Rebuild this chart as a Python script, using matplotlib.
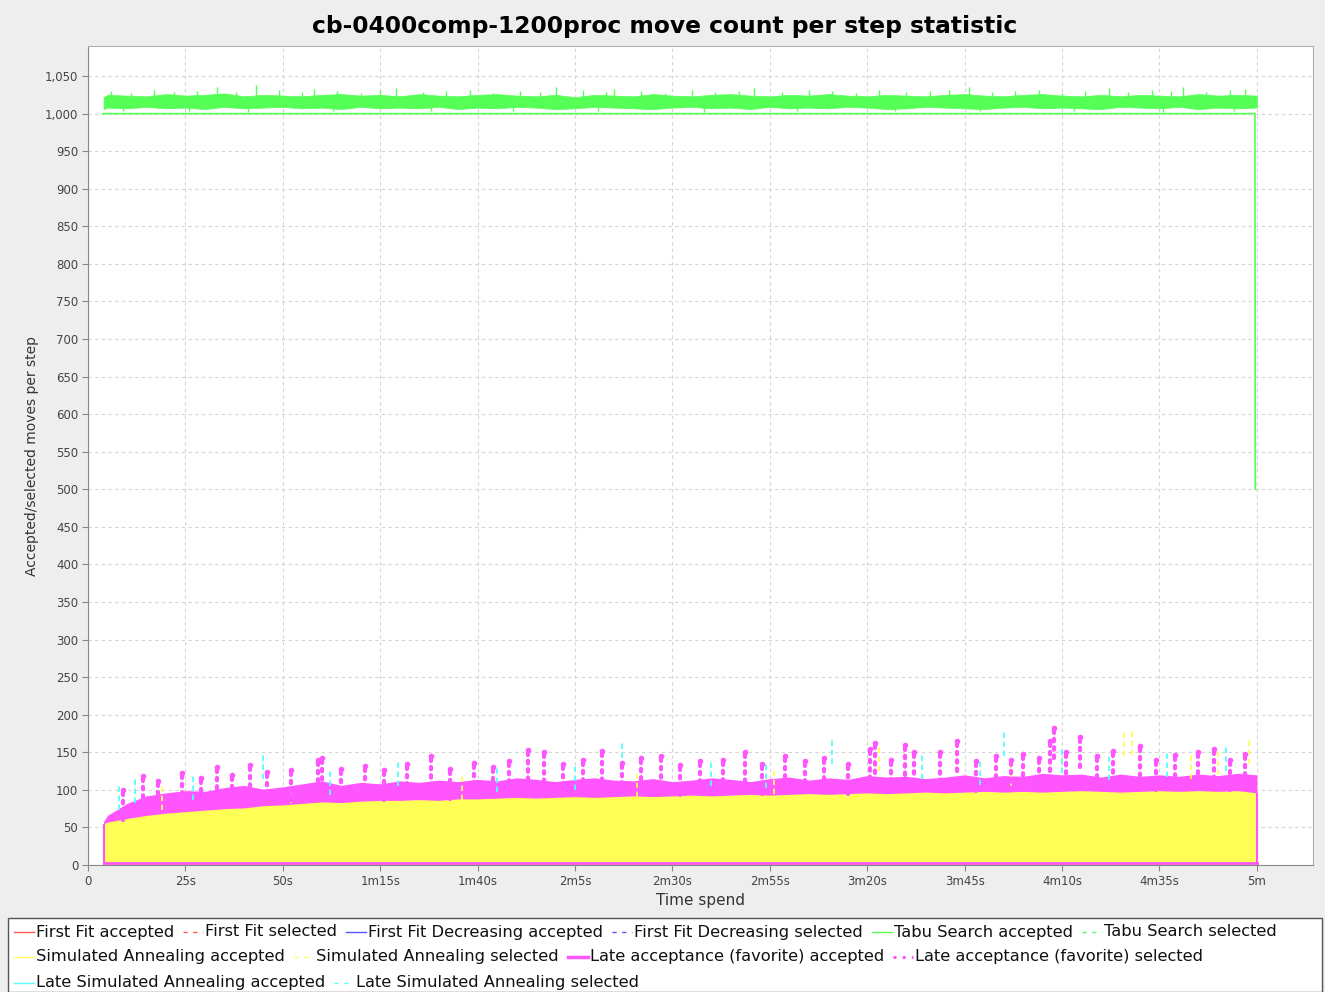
import matplotlib
matplotlib.use("Agg")
import matplotlib.pyplot as plt
from matplotlib.lines import Line2D
from matplotlib.patches import Rectangle
from matplotlib.ticker import FuncFormatter

# sample times (seconds) of the move count series
t_sec = [4] + list(range(5, 301, 5))

# Tabu Search: noisy band of selected moves and flat accepted line
ts_hi = [1022, 1025, 1024, 1023, 1026, 1024, 1025, 1027, 1023, 1025, 1024,
         1023, 1025, 1026, 1024, 1025, 1023, 1026, 1024, 1023, 1025, 1026,
         1024, 1023, 1025, 1022, 1025, 1024, 1023, 1026, 1024, 1023, 1025,
         1026, 1024, 1023, 1025, 1024, 1026, 1024, 1023, 1025, 1024, 1023,
         1025, 1026, 1024, 1023, 1025, 1026, 1024, 1023, 1025, 1023, 1025,
         1024, 1023, 1026, 1024, 1025, 1024]
ts_lo = [1006, 1008, 1007, 1009, 1007, 1008, 1006, 1009, 1007, 1008, 1009,
         1007, 1008, 1006, 1009, 1007, 1008, 1007, 1009, 1006, 1008, 1007,
         1009, 1008, 1006, 1007, 1009, 1008, 1007, 1006, 1008, 1009, 1007,
         1008, 1006, 1009, 1007, 1008, 1007, 1009, 1008, 1006, 1007, 1009,
         1008, 1007, 1006, 1008, 1009, 1007, 1008, 1007, 1006, 1009, 1008,
         1007, 1009, 1006, 1008, 1007, 1008]
ts_spike_t = [6, 11, 17, 22, 28, 33, 38, 43, 49, 55, 58, 64, 70, 75, 79, 86,
              92, 98, 104, 111, 116, 120, 127, 133, 135, 142, 148, 155, 161,
              167, 171, 178, 185, 191, 197, 203, 210, 216, 221, 226, 232,
              238, 244, 250, 256, 262, 267, 273, 278, 281, 287, 293, 297]
ts_spike_v = [1030, 1028, 1031, 1029, 1030, 1036, 1029, 1038, 1031, 1029,
              1033, 1030, 1028, 1031, 1034, 1029, 1030, 1031, 1028, 1030,
              1029, 1035, 1031, 1029, 1033, 1030, 1028, 1031, 1029, 1030,
              1034, 1029, 1031, 1030, 1028, 1031, 1029, 1030, 1031, 1035,
              1029, 1030, 1031, 1028, 1030, 1034, 1029, 1031, 1030, 1036,
              1029, 1031, 1033]
ts_dip_t = [9, 26, 41, 63, 88, 109, 131, 158, 182, 207, 229, 253, 276, 294]
ts_dip_v = [1003, 1004, 1002, 1004, 1003, 1004, 1003, 1002, 1004, 1003,
            1004, 1003, 1002, 1004]
tabu_acc_t = [3.85, 299.5, 299.6]
tabu_acc = [1000, 1000, 500]

# Simulated Annealing: top of the dense yellow band
sa_top = [55, 57, 62, 66, 69, 71, 73, 75, 76, 79, 80, 82, 84, 83, 85, 86,
          86, 87, 86, 88, 88, 89, 90, 89, 90, 91, 90, 91, 92, 91, 92, 93,
          92, 93, 94, 93, 94, 95, 94, 95, 96, 95, 96, 97, 96, 97, 98, 97,
          98, 97, 98, 99, 98, 97, 98, 99, 98, 99, 98, 99, 96]
sa_spike_t = [19, 52, 96, 141, 176, 203, 237, 266, 268, 283, 290, 298]
sa_spike_v = [108, 118, 122, 125, 130, 160, 140, 180, 182, 150, 155, 170]

# Late acceptance: selected band top, accepted near zero, high outliers
la_hi = [58, 66, 82, 92, 96, 99, 98, 103, 106, 101, 104, 108, 112, 106,
         110, 108, 112, 110, 113, 111, 114, 112, 116, 114, 111, 114, 116,
         113, 112, 115, 111, 113, 116, 114, 111, 115, 117, 113, 116, 114,
         119, 117, 118, 115, 117, 120, 116, 119, 118, 122, 120, 121, 117,
         121, 118, 120, 118, 121, 119, 122, 120]
la_accepted = [2] * len(t_sec)
la_peak_t = [9, 14, 18, 24, 29, 33, 37, 41.6, 46, 52, 59, 60, 65, 71, 76,
             82, 88, 93, 99, 104, 108, 113, 117, 122, 127, 132, 137, 142,
             147, 152, 157, 163, 168.6, 173, 179, 184, 189, 195, 200.7, 202,
             206, 209.6, 212, 218.6, 223, 228, 233, 237, 240, 244, 247, 248,
             251, 254.6, 259, 263, 270, 274, 279, 285, 289, 293, 297]
la_peak_v = [100, 118, 112, 122, 116, 130, 120, 133, 124, 126, 140, 143,
             128, 132, 126, 135, 145, 128, 136, 130, 138, 153, 150, 134, 140,
             152, 136, 142, 145, 133, 138, 140, 150, 135, 145, 138, 142, 134,
             155, 162, 140, 160, 150, 150, 165, 138, 145, 140, 148, 142, 165,
             182, 150, 170, 145, 152, 158, 140, 146, 150, 155, 140, 148]

# Late Simulated Annealing: outliers poking above the other bands
lsa_spike_t = [8, 12, 27, 45, 62, 79.5, 105, 125, 137, 160, 174, 191, 214,
               229, 235, 250, 262, 277, 292]
lsa_spike_v = [108, 118, 122, 150, 128, 140, 132, 135, 165, 140, 138, 170,
               150, 142, 180, 158, 148, 152, 160]

x_ticks = list(range(0, 301, 25))
x_labels = ["0", "25s", "50s", "1m15s", "1m40s", "2m5s", "2m30s", "2m55s",
            "3m20s", "3m45s", "4m10s", "4m35s", "5m"]
y_ticks = list(range(0, 1051, 50))

RED, BLUE, GREEN = "#ff5555", "#5555ff", "#55ff55"
YELLOW, MAGENTA, CYAN = "#ffff55", "#ff55ff", "#55ffff"

W, H = 1325, 992
fig = plt.figure(figsize=(W / 100, H / 100), dpi=100, facecolor="#eeeeee")
ax = fig.add_axes([88 / W, 1 - 865 / H, (1313 - 88) / W, (865 - 46) / H])
ax.set_facecolor("white")

# green band + accepted line
ax.fill_between(t_sec, ts_lo, ts_hi, color=GREEN, lw=0.5, edgecolor=GREEN)
ax.vlines(ts_spike_t, 1015, ts_spike_v, color=GREEN, lw=1.0)
ax.vlines(ts_dip_t, ts_dip_v, 1012, color=GREEN, lw=1.0)
ax.plot(tabu_acc_t, tabu_acc, color=GREEN, lw=1.2)

# magenta selected band, yellow over it, outliers on top
ax.fill_between(t_sec, 0, la_hi, color=MAGENTA, lw=0)
ax.fill_between(t_sec, 0, sa_top, color=YELLOW, lw=0)
ax.vlines(sa_spike_t, [v - 35 for v in sa_spike_v], sa_spike_v,
          color=YELLOW, lw=1.3, linestyles=(0, (3, 2)))
ax.vlines(lsa_spike_t, [v - 35 for v in lsa_spike_v], lsa_spike_v,
          color=CYAN, lw=1.3, linestyles=(0, (3, 2)))
peaks = ax.vlines(la_peak_t, [v - 40 for v in la_peak_v], la_peak_v,
                  color=MAGENTA, lw=3, linestyles=(0, (0.6, 1.4)))
peaks.set_capstyle("round")
ax.plot(la_peak_t, la_peak_v, "o", color=MAGENTA, ms=4, mew=0)
ax.plot(t_sec, la_accepted, color=MAGENTA, lw=2)
ax.vlines([t_sec[0], t_sec[-1]], 0, [sa_top[0], sa_top[-1]],
          color=MAGENTA, lw=1.5)

ax.set_xlim(0, 314.4)
ax.set_ylim(0, 1090)
ax.set_xticks(x_ticks)
ax.set_xticklabels(x_labels)
ax.set_yticks(y_ticks)
ax.yaxis.set_major_formatter(FuncFormatter(lambda v, p: f"{int(v):,}"))
ax.grid(True, color="#d4d4d4", linestyle=(0, (3, 3)), lw=0.8)
ax.set_axisbelow(True)
ax.tick_params(direction="out", length=4, color="#888888", labelsize=8.5,
               labelcolor="#444444", pad=3)
for side in ["left", "bottom"]:
    ax.spines[side].set_color("#888888")
for side in ["top", "right"]:
    ax.spines[side].set_color("#b0b0b0")

ax.set_xlabel("Time spend", fontsize=11, color="#333333", labelpad=4)
ax.set_ylabel("Accepted/selected moves per step", fontsize=10,
              color="#333333", labelpad=4)
fig.text(665 / W, 1 - 26 / H,
         "cb-0400comp-1200proc move count per step statistic",
         ha="center", va="center", fontsize=16.8, fontweight="bold")

# legend box drawn as a flow of entries
fig.patches.append(Rectangle((8 / W, 0), (1322 - 8) / W, 1 - 918 / H,
                             transform=fig.transFigure, facecolor="white",
                             edgecolor="#555555", lw=1))
entries = [
    ("First Fit accepted", RED, "-", 1),
    ("First Fit selected", RED, (0, (3, 4)), 1),
    ("First Fit Decreasing accepted", BLUE, "-", 1),
    ("First Fit Decreasing selected", BLUE, (0, (3, 4)), 1),
    ("Tabu Search accepted", GREEN, "-", 1),
    ("Tabu Search selected", GREEN, (0, (3, 4)), 1),
    ("Simulated Annealing accepted", YELLOW, "-", 1),
    ("Simulated Annealing selected", YELLOW, (0, (3, 4)), 1),
    ("Late acceptance (favorite) accepted", MAGENTA, "-", 2.5),
    ("Late acceptance (favorite) selected", MAGENTA, (0, (1, 2)), 2.2),
    ("Late Simulated Annealing accepted", CYAN, "-", 1),
    ("Late Simulated Annealing selected", CYAN, (0, (3, 4)), 1),
]
fig.canvas.draw()
renderer = fig.canvas.get_renderer()
row_y = [932, 957, 983]
row, x = 0, 14
for label, color, ls, lw in entries:
    txt = fig.text(0, 0, label, fontsize=11.7, color="#111111", va="center")
    tw = txt.get_window_extent(renderer).width
    if x + 22 + tw > 1316:
        row += 1
        x = 14
    y = 1 - row_y[row] / H
    txt.set_position(((x + 22) / W, y))
    fig.lines.append(Line2D([x / W, (x + 20) / W], [y, y],
                            transform=fig.transFigure, color=color,
                            linestyle=ls, lw=lw))
    x += 22 + tw + 9

fig.savefig("out.png", dpi=100, facecolor=fig.get_facecolor())
